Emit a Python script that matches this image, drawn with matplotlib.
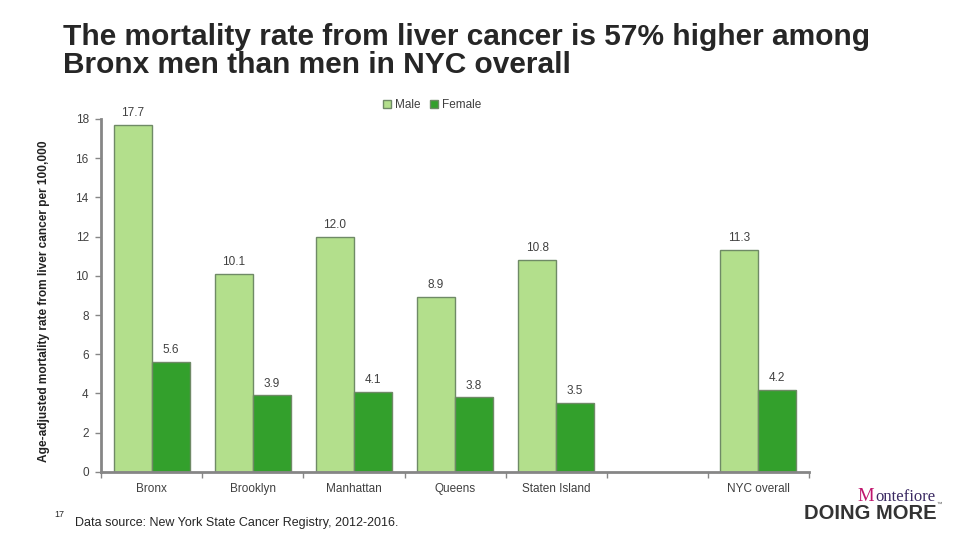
import numpy as np
import matplotlib.pyplot as plt
from matplotlib.patches import Patch

plt.rcParams['font.family'] = ['Liberation Sans', 'DejaVu Sans']

# Data
categories = ['Bronx', 'Brooklyn', 'Manhattan', 'Queens', 'Staten Island', '', 'NYC overall']
male = [17.7, 10.1, 12.0, 8.9, 10.8, np.nan, 11.3]
female = [5.6, 3.9, 4.1, 3.8, 3.5, np.nan, 4.2]
series_names = ['Male', 'Female']
yticks = [0, 2, 4, 6, 8, 10, 12, 14, 16, 18]

male_color = '#b3df8c'
female_color = '#33a02c'
edge = '#6f8a66'
axis_grey = '#868686'
text_col = '#404040'

fig = plt.figure(figsize=(9.6, 5.4), dpi=100)
ax = fig.add_axes([0.1055, 0.126, 0.737, 0.654])

x = np.arange(len(categories))
w = 0.375
ax.bar(x - w / 2, male, w, color=male_color, edgecolor=edge, linewidth=1)
ax.bar(x + w / 2, female, w, color=female_color, edgecolor=edge, linewidth=1)

for xi, v in zip(x, male):
    if not np.isnan(v):
        ax.text(xi - w / 2, v + 0.3, f'{v:.1f}', ha='center', va='bottom',
                fontsize=8.5, color=text_col)
for xi, v in zip(x, female):
    if not np.isnan(v):
        ax.text(xi + w / 2, v + 0.3, f'{v:.1f}', ha='center', va='bottom',
                fontsize=8.5, color=text_col)

ax.set_xlim(-0.5, len(categories) - 0.5)
ax.set_ylim(0, 18)
ax.set_yticks(yticks)
ax.set_xticks(x)
ax.set_xticklabels(categories)
ax.set_xticks(np.arange(-0.5, len(categories)), minor=True)
ax.tick_params(axis='x', which='major', length=0, pad=8, labelsize=8.5, labelcolor=text_col)
ax.tick_params(axis='x', which='minor', length=4, color=axis_grey, width=1)
ax.tick_params(axis='y', length=4, color=axis_grey, width=1, pad=5,
               labelsize=8.5, labelcolor=text_col)
for s in ['top', 'right']:
    ax.spines[s].set_visible(False)
for s in ['left', 'bottom']:
    ax.spines[s].set_color(axis_grey)
    ax.spines[s].set_linewidth(2)

ax.set_ylabel('Age-adjusted mortality rate from liver cancer per 100,000',
              fontsize=8.6, fontweight='bold', color='#222222')
ax.yaxis.set_label_coords(-0.073, 0.484)

handles = [Patch(facecolor=male_color, edgecolor=edge),
           Patch(facecolor=female_color, edgecolor=edge)]
fig.legend(handles, series_names, loc='center', bbox_to_anchor=(0.45, 0.805),
           ncol=2, frameon=False, fontsize=8.5, handlelength=0.7, handleheight=0.7,
           handletextpad=0.3, columnspacing=0.8, labelcolor=text_col)

fig.text(0.066, 0.957, 'The mortality rate from liver cancer is 57% higher among\n'
         'Bronx men than men in NYC overall', fontsize=21.5, fontweight='bold',
         color='#262626', va='top', ha='left', linespacing=1.0)

fig.text(0.057, 0.043, '17', fontsize=6.5, color='#262626')
fig.text(0.078, 0.026, 'Data source: New York State Cancer Registry, 2012-2016.',
         fontsize=9, color='#262626')

# logo
fig.text(0.893, 0.073, 'M', fontsize=13.5, family='Liberation Serif', color='#c0166e')
fig.text(0.912, 0.073, 'ontefiore', fontsize=12, family='Liberation Serif', color='#3b2a63')
fig.text(0.838, 0.039, 'DOING MORE', fontsize=14.5, fontweight='bold', color='#333333')
fig.text(0.976, 0.064, '\u2122', fontsize=4, color='#555555')

plt.savefig('out.png', dpi=100)
